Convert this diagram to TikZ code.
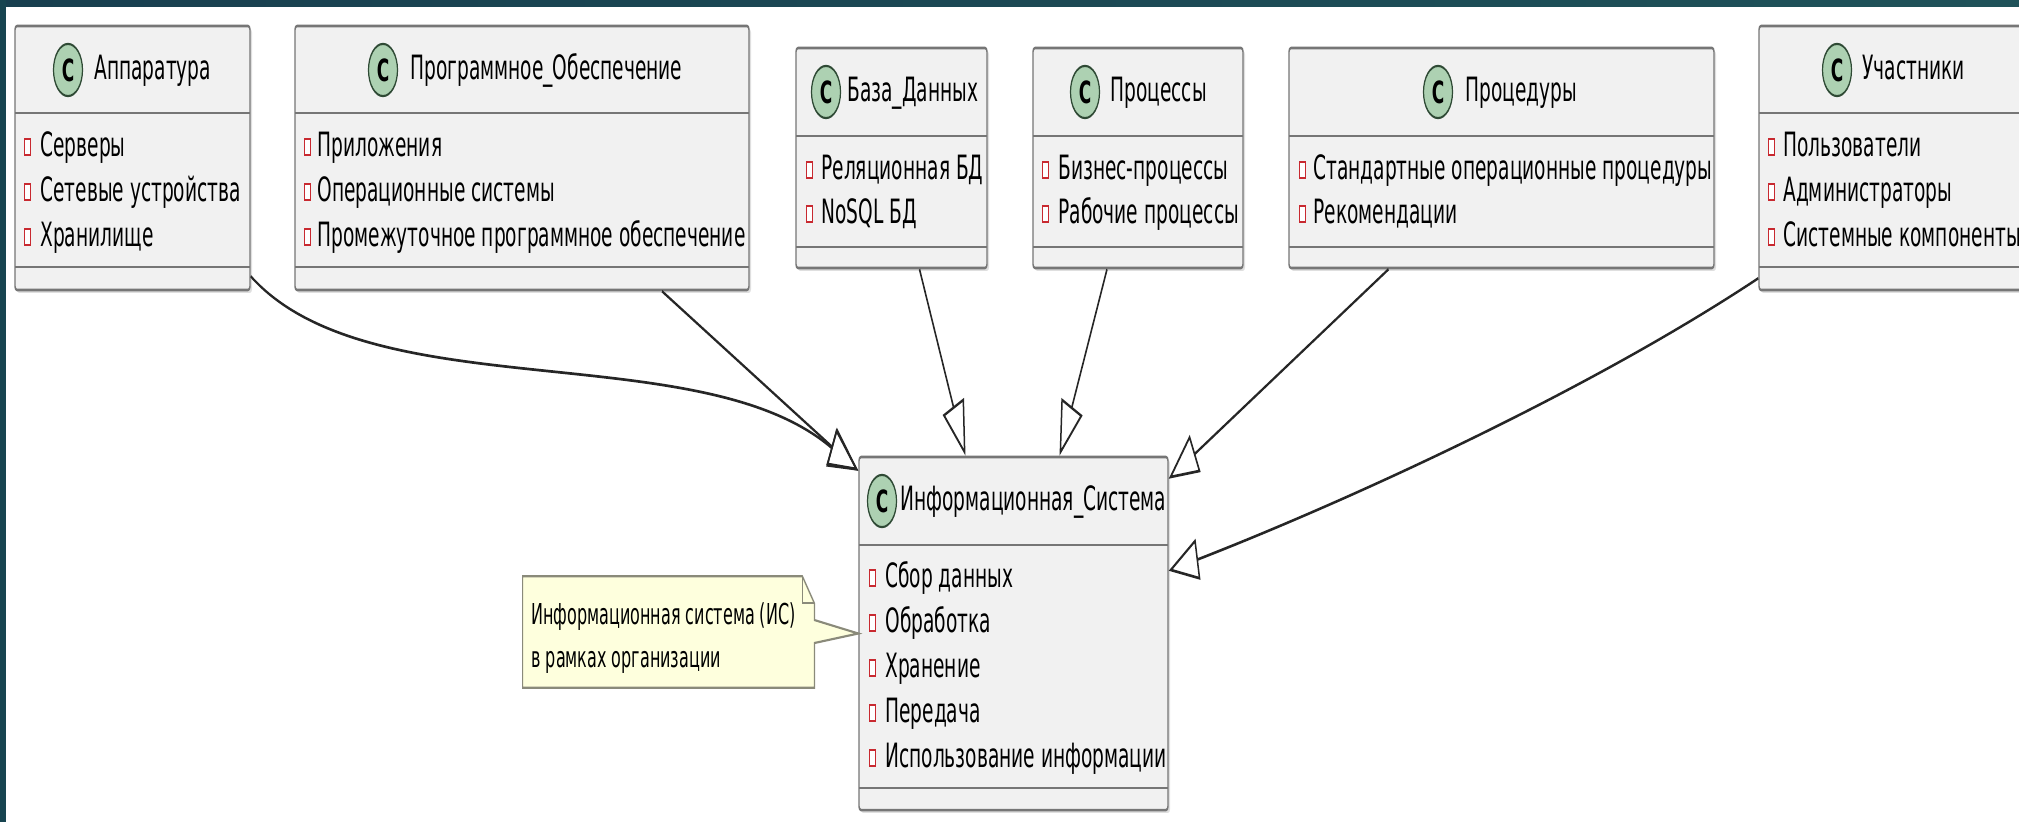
\documentclass[tikz,border=0pt]{standalone}
\usepackage{fontspec}
\setmainfont{DejaVu Sans}
\usetikzlibrary{calc,arrows.meta,fit,shadows}
\definecolor{boxfill}{HTML}{F1F1F1}
\definecolor{boxline}{HTML}{767676}
\definecolor{spotfill}{HTML}{ADD1B2}
\definecolor{spotline}{HTML}{2F4A35}
\definecolor{itemred}{HTML}{C82930}
\definecolor{notefill}{HTML}{FEFFDD}
\definecolor{notedraw}{HTML}{8A8A7A}
\definecolor{barA}{HTML}{183F4F}
\definecolor{barB}{HTML}{3A6F66}
\definecolor{barC}{HTML}{1F5259}
\definecolor{barL}{HTML}{174450}
\tikzset{
  cls/.style={draw=boxline, fill=boxfill, line width=0.7pt, rectangle, inner sep=0pt,
    rounded corners=1pt, drop shadow={shadow xshift=1pt, shadow yshift=-0.8pt, opacity=0.25}},
  divline/.style={draw=boxline, line width=0.7pt},
  txt/.style={anchor=west, inner sep=0pt, font=\fontsize{9.3}{11}\selectfont, text height=0.73em, text depth=0.2em},
  notetxt/.style={anchor=west, inner sep=0pt, font=\fontsize{8.0}{10}\selectfont, text height=0.73em, text depth=0.2em},
  sq/.style={draw=itemred, fill=white, line width=0.45pt, minimum width=3pt, minimum height=4.4pt, inner sep=0pt},
  spot/.style={circle, draw=spotline, fill=spotfill, line width=0.6pt, minimum size=14.5pt, inner sep=0pt,
    font=\fontsize{8.5}{8.5}\selectfont\bfseries},
  gen/.style={draw=black!85, line width=0.75pt, -{Triangle[open, length=15pt, width=11.5pt]}},
  notebox/.style={draw=notedraw, fill=notefill, line width=0.6pt},
}
\begin{document}
\begin{tikzpicture}
\useasboundingbox (0,0) rectangle (1009.5pt,-411pt);
\clip (0,0) rectangle (1009.5pt,-411pt);
\fill[white] (0,0) rectangle (1009.5pt,-411pt);
\shade[left color=barA, middle color=barB, right color=barC] (0,0) rectangle (1009.5pt,-3.2pt);
\fill[barL] (0,0) rectangle (3pt,-411pt);
\begin{scope}[x=0.5pt, y=-0.27778pt, transform canvas={yscale=1.8}]
  % ---- class boxes ----
  \node[cls, fit={(15,26) (250,290)}] (appar) {};
  \node[cls, fit={(295,26) (749,290)}] (soft) {};
  \node[cls, fit={(796,48) (987,268)}] (db) {};
  \node[cls, fit={(1033,48) (1243,268)}] (proc) {};
  \node[cls, fit={(1289,48) (1714,268)}] (procd) {};
  \node[cls, fit={(1759,26) (2045,290)}] (part) {};
  \node[cls, fit={(859,457) (1168,810)}] (is) {};
  % dividers
  \draw[divline] (15,113) -- (250,113) (15,267) -- (250,267);
  \draw[divline] (295,113) -- (749,113) (295,267) -- (749,267);
  \draw[divline] (796,136) -- (987,136) (796,247) -- (987,247);
  \draw[divline] (1033,136) -- (1243,136) (1033,247) -- (1243,247);
  \draw[divline] (1289,136) -- (1714,136) (1289,247) -- (1714,247);
  \draw[divline] (1759,113) -- (2045,113) (1759,267) -- (2045,267);
  \draw[divline] (859,545) -- (1168,545) (859,788) -- (1168,788);
  % ---- headers ----
  \node[spot] (apparC) at (68,70) {C};
  \node[txt] (apparT) at (94,70) {Аппаратура};
  \node[spot] (softC) at (383,70) {C};
  \node[txt] (softT) at (410,70) {Программное\_Обеспечение};
  \node[spot] (dbC) at (826,92) {C};
  \node[txt] (dbT) at (847,92) {База\_Данных};
  \node[spot] (procC) at (1085,92) {C};
  \node[txt] (procT) at (1110,92) {Процессы};
  \node[spot] (procdC) at (1438,92) {C};
  \node[txt] (procdT) at (1465,92) {Процедуры};
  \node[spot] (partC) at (1837,70) {C};
  \node[txt] (partT) at (1862,70) {Участники};
  \node[spot] (isC) at (882,501) {C};
  \node[txt] (isT) at (900,501) {Информационная\_Система};
  % ---- items ----
  \node[sq] (a1s) at (27,147) {}; \node[txt] (a1) at (40,147) {Серверы};
  \node[sq] (a2s) at (27,192) {}; \node[txt] (a2) at (40,192) {Сетевые устройства};
  \node[sq] (a3s) at (27,237) {}; \node[txt] (a3) at (40,237) {Хранилище};
  \node[sq] (s1s) at (307,147) {}; \node[txt] (s1) at (317,147) {Приложения};
  \node[sq] (s2s) at (307,192) {}; \node[txt] (s2) at (317,192) {Операционные системы};
  \node[sq] (s3s) at (307,237) {}; \node[txt] (s3) at (317,237) {Промежуточное программное обеспечение};
  \node[sq] (d1s) at (809,170) {}; \node[txt] (d1) at (821,170) {Реляционная БД};
  \node[sq] (d2s) at (809,214) {}; \node[txt] (d2) at (821,214) {NoSQL БД};
  \node[sq] (p1s) at (1045,170) {}; \node[txt] (p1) at (1058,170) {Бизнес-процессы};
  \node[sq] (p2s) at (1045,214) {}; \node[txt] (p2) at (1058,214) {Рабочие процессы};
  \node[sq] (r1s) at (1302,170) {}; \node[txt] (r1) at (1313,170) {Стандартные операционные процедуры};
  \node[sq] (r2s) at (1302,214) {}; \node[txt] (r2) at (1313,214) {Рекомендации};
  \node[sq] (u1s) at (1771,147) {}; \node[txt] (u1) at (1783,147) {Пользователи};
  \node[sq] (u2s) at (1771,192) {}; \node[txt] (u2) at (1783,192) {Администраторы};
  \node[sq] (u3s) at (1771,237) {}; \node[txt] (u3) at (1783,237) {Системные компоненты};
  \node[sq] (i1s) at (872,578) {}; \node[txt] (i1) at (885,578) {Сбор данных};
  \node[sq] (i2s) at (872,623) {}; \node[txt] (i2) at (885,623) {Обработка};
  \node[sq] (i3s) at (872,668) {}; \node[txt] (i3) at (885,668) {Хранение};
  \node[sq] (i4s) at (872,713) {}; \node[txt] (i4) at (885,713) {Передача};
  \node[sq] (i5s) at (872,758) {}; \node[txt] (i5) at (885,758) {Использование информации};
  % ---- note ----
  \node[inner sep=0pt, fit={(523,577) (814,687)}] (note) {};
  \draw[notebox] (note.south west) -- (note.north west) -- ($(note.north east)+(-12,0)$)
    -- ($(note.north east)+(0,27)$) -- ($(note.east)+(0,-12)$) -- (is.west)
    -- ($(note.east)+(0,11)$) -- (note.south east) -- cycle;
  \draw[notebox, fill=none] ($(note.north east)+(-12,0)$) -- ($(note.north east)+(-12,27)$) -- ($(note.north east)+(0,27)$);
  \node[notetxt] (n1) at (531,615) {Информационная система (ИС)};
  \node[notetxt] (n2) at (531,658) {в рамках организации};
  % ---- generalizations ----
  \draw[gen] ($(appar.south east)+(0,-15)$) .. controls (370,410) and (700,335) .. ($(is.north west)+(0,15)$);
  \draw[gen] ($(soft.south)+(140,0)$) -- ($(is.north west)+(0,15)$);
  \draw[gen] ($(db.south)+(28,0)$) -- ($(is.north)+(-48,0)$);
  \draw[gen] ($(proc.south)+(-31,0)$) -- ($(is.north)+(46,0)$);
  \draw[gen] ($(procd.south)+(-113,0)$) -- ($(is.north east)+(0,23)$);
  \draw[gen] ($(part.south west)+(0,-13)$) .. controls (1590,390) and (1350,500) .. ($(is.north east)+(0,115)$);
\end{scope}
\end{tikzpicture}
\end{document}
